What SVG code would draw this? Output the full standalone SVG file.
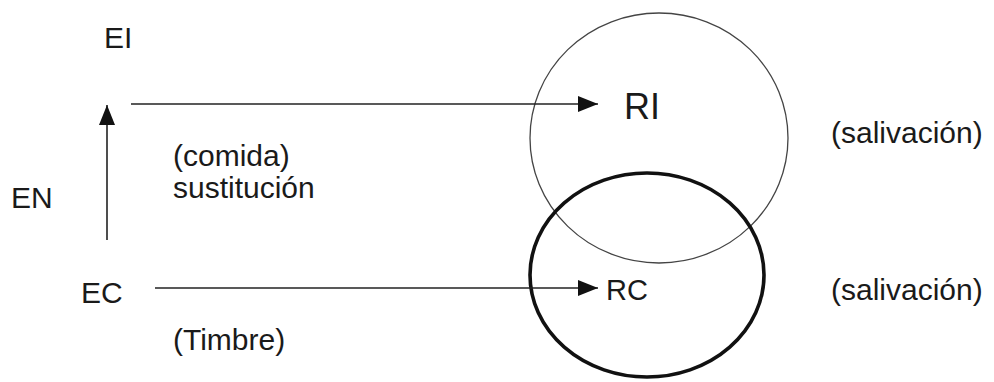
<svg xmlns="http://www.w3.org/2000/svg" width="994" height="382" viewBox="0 0 994 382">
  <defs>
    <marker id="head" markerWidth="20" markerHeight="16" refX="20" refY="8" orient="auto" markerUnits="userSpaceOnUse">
      <path d="M0,0 L20,8 L0,16 Z" fill="#111"/>
    </marker>
    <style>
      text { font-family: "Liberation Sans", Arial, sans-serif; fill: #1a1a1a; }
      .lbl { font-size: 30px; }
      .big { font-size: 36px; }
      .mid { font-size: 29px; }
      .conn { stroke: #222; stroke-width: 1.6; fill: none; }
    </style>
  </defs>
  <rect width="994" height="382" fill="#fff"/>

  <!-- response areas -->
  <g id="ri-area">
    <ellipse cx="659" cy="138" rx="129" ry="125" fill="none" stroke="#444" stroke-width="1.3"/>
  </g>
  <g id="rc-area">
    <ellipse cx="647" cy="275" rx="117" ry="102" fill="none" stroke="#111" stroke-width="3.6"/>
  </g>

  <!-- connectors -->
  <g id="connectors">
    <line class="conn" x1="131" y1="104" x2="598" y2="104" marker-end="url(#head)"/>
    <line class="conn" x1="155" y1="288" x2="598" y2="288" marker-end="url(#head)"/>
    <line class="conn" x1="107" y1="240" x2="107" y2="105" marker-end="url(#head)"/>
  </g>

  <g id="ei"><text class="lbl" x="104" y="48">EI</text></g>
  <g id="en"><text class="lbl" x="11" y="208">EN</text></g>
  <g id="ec"><text class="lbl" x="81" y="303">EC</text></g>
  <g id="timbre"><text class="lbl" x="173" y="350">(Timbre)</text></g>
  <g id="comida">
    <text class="lbl" x="173" y="166">(comida)</text>
    <text class="lbl" x="173" y="198">sustitución</text>
  </g>
  <g id="ri"><text class="big" x="624" y="119">RI</text></g>
  <g id="rc"><text class="mid" x="606" y="300">RC</text></g>
  <g id="sal-ri"><text class="lbl" x="831" y="143">(salivación)</text></g>
  <g id="sal-rc"><text class="lbl" x="831" y="300">(salivación)</text></g>
</svg>
